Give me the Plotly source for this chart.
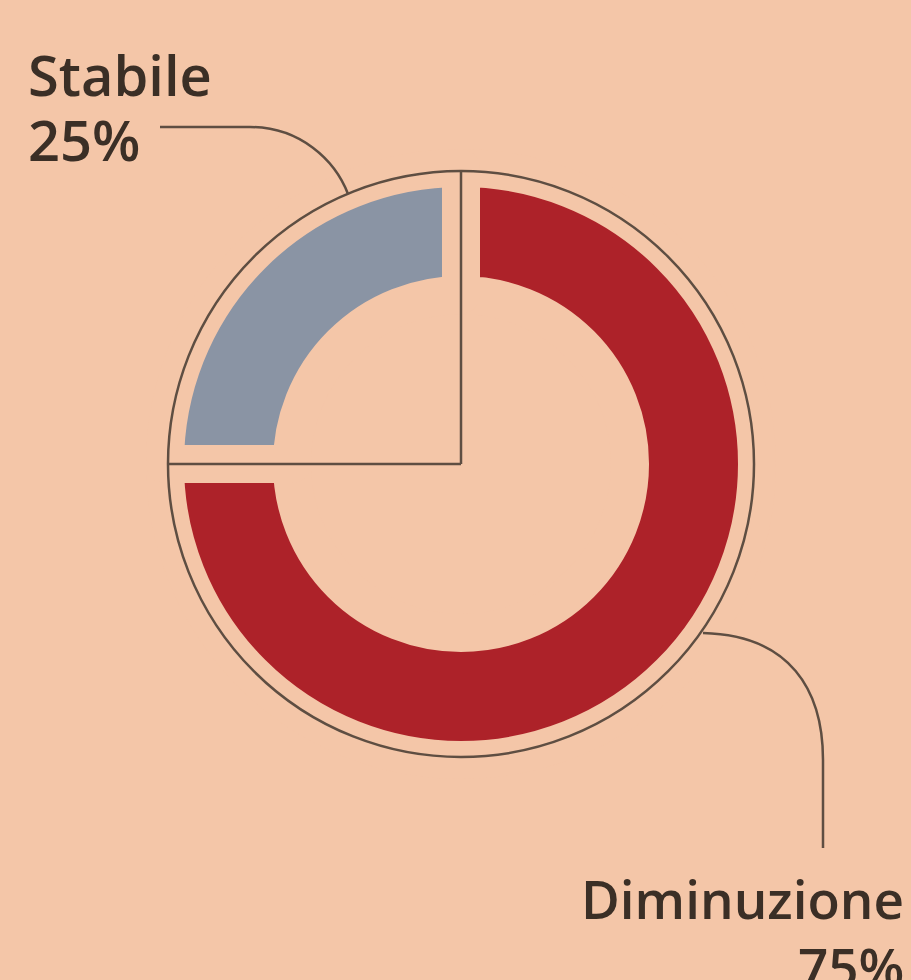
import plotly.graph_objects as go

# Data
labels = ["Stabile", "Diminuzione"]
values = [25, 75]
pct_text = ["25%", "75%"]

BG = "#f4c6a8"
RED = "#ad2229"
GRAY = "#8a94a4"
LINE = "#5e4e42"
TXT = "#3b2f26"

W, H = 911, 980
cx, cy, R = 461, 464, 296

# clockwise from 12 o'clock: Diminuzione (12 -> 9 via 3, 6), then Stabile (9 -> 12)
order = [1, 0]
fig = go.Figure()
fig.add_trace(go.Pie(
    labels=[labels[i] for i in order], values=[values[i] for i in order],
    sort=False, direction="clockwise",
    rotation=0, hole=0.571, textinfo="none", showlegend=False,
    marker=dict(colors=[RED, GRAY], line=dict(color=BG, width=38)),
    domain=dict(x=[(cx - R) / W, (cx + R) / W],
                y=[(H - cy - R) / H, (H - cy + R) / H]),
))
# invisible pixel axes for decorations
fig.add_trace(go.Scatter(x=[0, W], y=[0, H], mode="markers",
                         marker=dict(opacity=0), showlegend=False, hoverinfo="skip"))

rc = 293
shapes = [
    dict(type="circle", x0=cx - rc, y0=cy - rc, x1=cx + rc, y1=cy + rc,
         line=dict(color=LINE, width=2.5), layer="above"),
    dict(type="line", x0=cx, y0=cy, x1=cx, y1=cy - rc,
         line=dict(color=LINE, width=2.5), layer="above"),
    dict(type="line", x0=cx, y0=cy, x1=cx - rc, y1=cy,
         line=dict(color=LINE, width=2.5), layer="above"),
    dict(type="path", path="M160,127 L250,127 C300,127 335,160 348,194",
         line=dict(color=LINE, width=2.5), layer="above"),
    dict(type="path", path="M703,633 C790,635 823,690 823,760 L823,848",
         line=dict(color=LINE, width=2.5), layer="above"),
]

font = dict(family="Open Sans", size=56, color=TXT, weight=600)
font2 = dict(family="Open Sans", size=53, color=TXT, weight=600)
annotations = [
    dict(x=26, y=74, text=labels[0], xanchor="left", yanchor="middle", font=font,
         showarrow=False, height=56),
    dict(x=26, y=139, text=pct_text[0], xanchor="left", yanchor="middle", font=font,
         showarrow=False, height=56),
    dict(x=906, y=898, text=labels[1], xanchor="right", yanchor="middle", font=font2,
         showarrow=False, height=56),
    dict(x=906, y=966, text=pct_text[1], xanchor="right", yanchor="middle", font=font2,
         showarrow=False, height=56),
]

fig.update_layout(
    width=W, height=H, margin=dict(l=0, r=0, t=0, b=0),
    paper_bgcolor=BG, plot_bgcolor=BG,
    xaxis=dict(range=[0, W], visible=False, fixedrange=True),
    yaxis=dict(range=[H, 0], visible=False, fixedrange=True),
    shapes=shapes, annotations=annotations,
)
fig.write_html("out.html", config={"displayModeBar": False},
               post_script="document.body.style.margin='0';document.body.style.overflow='hidden';")
